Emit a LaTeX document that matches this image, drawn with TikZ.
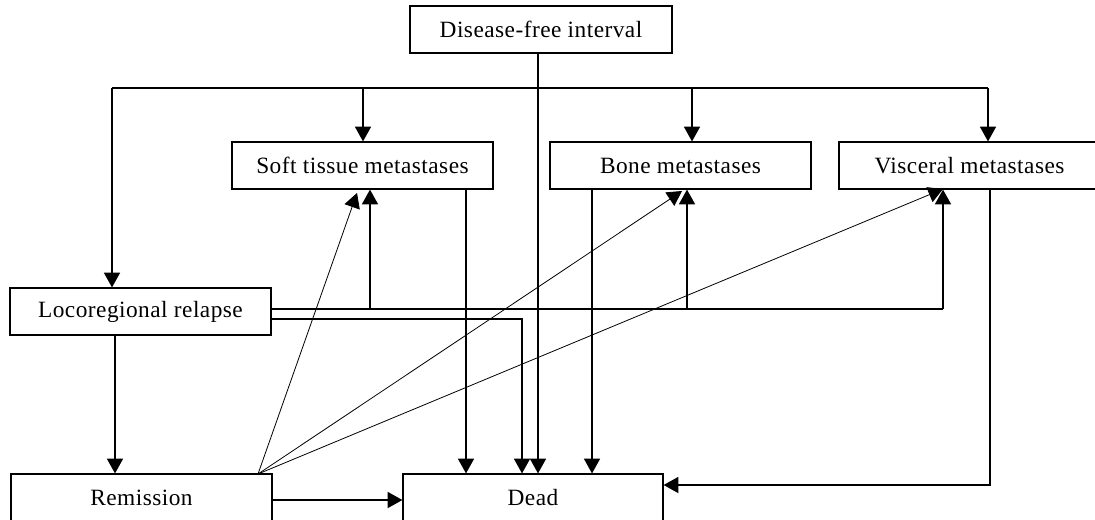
\documentclass[tikz,border=0pt]{standalone}
\usepackage{fontspec}
\setmainfont{Liberation Serif}[LetterSpace=2]
\usetikzlibrary{arrows.meta}
\begin{document}
\begin{tikzpicture}[x=0.75pt,y=-0.75pt,
  box/.style={draw,line width=0.9pt,fill=white,inner sep=0pt,minimum width=195.75pt,minimum height=35.25pt,font=\fontsize{17.5}{20}\selectfont},
  ln/.style={line width=0.9pt},
  arr/.style={line width=0.9pt,-{Triangle[length=11pt,width=12pt]}},
  darr/.style={line width=0.6pt,-{Triangle[length=11pt,width=12pt]}}]
\useasboundingbox (0,0) rectangle (1095,519);
\clip (0,0) rectangle (1095,519);
\node[box,minimum width=196.5pt] (dfi) at (541,29.5) {Disease-free interval};
\node[box] (soft) at (362.5,165.5) {Soft tissue metastases};
\node[box] (bone) at (680.5,165.5) {Bone metastases};
\node[box] (visc) at (969.5,165.5) {Visceral metastases};
\node[box] (loco) at (140.5,311.5) {Locoregional relapse};
\node[box] (rem) at (141.5,497.5) {Remission};
\node[box,minimum width=195pt] (dead) at (533,497.5) {Dead};
% top bus
\coordinate (tl) at (112,88);
\coordinate (tr) at (988,88);
\coordinate (ts) at (363,88);
\coordinate (tb) at (692,88);
\draw[ln] (tl) -- (tr);
\draw[arr] (tl) -- (loco.north -| tl);
\draw[arr] (ts) -- (soft.north -| ts);
\draw[arr] (tb) -- (bone.north -| tb);
\draw[arr] (tr) -- (visc.north -| tr);
% DFI to dead
\draw[arr] (dfi.south -| 538,0) -- (dead.north -| 538,0);
% loco to remission
\draw[arr] (loco.south -| 115,0) -- (rem.north -| 115,0);
% remission to dead
\draw[arr] (rem.east |- 0,500) -- (dead.west |- 0,500);
% loco upper line
\coordinate (lu) at (943,309);
\draw[ln] (loco.east |- lu) -- (lu);
\draw[arr] (lu) -- (visc.south -| lu);
\coordinate (lus) at (370,309);
\coordinate (lub) at (687,309);
\draw[arr] (lus) -- (soft.south -| lus);
\draw[arr] (lub) -- (bone.south -| lub);
% loco lower line to dead
\coordinate (ll) at (522,319);
\draw[arr] (loco.east |- ll) -- (ll) -- (dead.north -| ll);
% metastases to dead
\draw[arr] (soft.south -| 466,0) -- (dead.north -| 466,0);
\draw[arr] (bone.south -| 592,0) -- (dead.north -| 592,0);
\coordinate (vd) at (990,485);
\draw[arr] (visc.south -| vd) -- (vd) -- (dead.east |- vd);
% diagonals from remission
\coordinate (rd) at (258,474);
\coordinate (ds) at (357,193);
\coordinate (db) at (682,191);
\coordinate (dv) at (943,189);
\draw[darr] (rd) -- (ds);
\draw[darr] (rd) -- (db);
\draw[darr] (rd) -- (dv);
\end{tikzpicture}
\end{document}
